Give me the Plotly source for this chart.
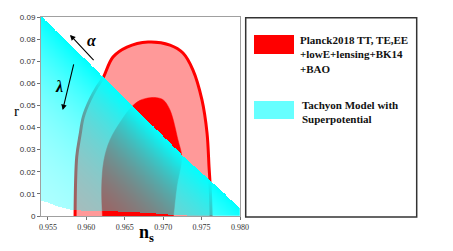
import numpy as np
import plotly.graph_objects as go

# ---------------- data ----------------
# Planck 2018 outer (95%) contour
outer_ns = [0.95853, 0.95875, 0.95918, 0.95961, 0.96048, 0.96139, 0.96217, 0.96347,
            0.96529, 0.96803, 0.97089, 0.97258, 0.97388, 0.97505, 0.97571, 0.97597,
            0.97610, 0.97623, 0.97623]
outer_r = [-0.002, 0.0267, 0.0366, 0.0448, 0.0525, 0.0583, 0.0624, 0.0719,
           0.0764, 0.0787, 0.0773, 0.0737, 0.0660, 0.0525, 0.0375, 0.0222,
           0.0149, 0.0014, -0.002]
# Planck 2018 inner (68%) contour
inner_ns = [0.96213, 0.96200, 0.96230, 0.96308, 0.96460, 0.96591, 0.96699, 0.96829,
            0.96916, 0.97002, 0.97089, 0.97193, 0.97241, 0.97176, 0.97128]
inner_r = [-0.002, 0.0131, 0.0253, 0.0344, 0.0434, 0.0494, 0.0523, 0.0535,
           0.0535, 0.0525, 0.0479, 0.0344, 0.0267, 0.0131, -0.002]
# Tachyon model region: upper and lower boundaries
upper_ns = [0.9530, 0.95423, 0.96221, 0.96656, 0.97262, 0.97675, 0.98000, 0.9815]
upper_r = [0.0942, 0.0900, 0.0629, 0.0479, 0.0271, 0.0140, 0.0035, -0.001]
lower_ns = [0.9530, 0.9541, 0.95657, 0.95827, 0.96217, 0.96829, 0.97154, 0.97480, 0.9815]
lower_r = [0.0074, 0.0069, 0.0038, 0.0025, 0.0020, 0.0011, 0.0002, -0.0002, -0.001]

x_ticks = [0.955, 0.960, 0.965, 0.970, 0.975, 0.980]
x_ticktext = ["0.955", "0.960", "0.965", "0.970", "0.975", "0.980"]
y_ticks = [0, 0.01, 0.02, 0.03, 0.04, 0.05, 0.06, 0.07, 0.08, 0.09]
y_ticktext = ["0", "0.01", "0.02", "0.03", "0.04", "0.05", "0.06", "0.07", "0.08", "0.09"]

legend_labels = ["Planck2018 TT, TE,EE<br>+lowE+lensing+BK14<br>+BAO",
                 "Tachyon Model with<br>Superpotential"]

# ---------------- layout geometry ----------------
W, H = 453, 251
ML, MR, MT, MB = 41, 213, 17, 35
PW, PH = W - ML - MR, H - MT - MB
XR = [0.9541, 0.9800]
YR = [0.0, 0.09]


def PX(x):
    return (x - ML) / PW


def PY(y):
    return (H - MB - y) / PH


# ---------------- cyan gradient region ----------------
xs = np.linspace(XR[0], XR[1], 420)
ys = np.linspace(YR[0], YR[1], 420)
XX, YY = np.meshgrid(xs, ys)
up = np.interp(XX, upper_ns, upper_r)
lo = np.interp(XX, lower_ns, lower_r)
sy = PH / (YR[1] - YR[0])
vert = (up - YY) * sy          # vertical pixel distance below the top edge
perp = vert * 0.719            # perpendicular distance to the (diagonal) edge
alpha = 0.22 + 0.78 * np.exp(-perp / 65.0)
mask = (YY <= up) & (YY >= lo)
Z = np.where(mask, alpha, np.nan).astype(np.float32)

fig = go.Figure()

fig.add_trace(go.Scatter(
    x=outer_ns, y=outer_r, mode="lines", fill="toself",
    fillcolor="rgb(255,153,153)", line=dict(color="#ff0000", width=3, shape="spline"),
    hoverinfo="skip", showlegend=False))
fig.add_trace(go.Scatter(
    x=inner_ns, y=inner_r, mode="lines", fill="toself",
    fillcolor="#ff0000", line=dict(color="#ff0000", width=0.5, shape="spline"),
    hoverinfo="skip", showlegend=False))

fig.add_trace(go.Heatmap(
    x=xs, y=ys, z=Z, xaxis="x2", yaxis="y2",
    colorscale=[[0, "rgba(0,255,255,0)"], [1, "rgba(0,255,255,1)"]],
    zmin=0, zmax=1, showscale=False, zsmooth=False, hoverinfo="skip"))

axis_common = dict(showgrid=False, zeroline=False, showline=True, linecolor="#a0a0a0",
                   linewidth=1, mirror=True, ticks="outside", ticklen=3,
                   tickcolor="#707070", tickwidth=1)

fig.update_layout(
    width=W, height=H,
    margin=dict(l=ML, r=MR, t=MT, b=MB, pad=0),
    paper_bgcolor="white", plot_bgcolor="white",
    showlegend=False,
    xaxis=dict(range=XR, tickvals=x_ticks, ticktext=x_ticktext,
               tickfont=dict(family="Liberation Serif", size=8, color="#333"), **axis_common),
    yaxis=dict(range=YR, tickvals=y_ticks, ticktext=y_ticktext,
               tickfont=dict(family="Liberation Sans", size=8, color="#333"), **axis_common),
    xaxis2=dict(range=XR, overlaying="x", visible=False, anchor="y2"),
    yaxis2=dict(range=YR, overlaying="y", visible=False, anchor="x2"),
)

shapes = [
    dict(type="rect", xref="paper", yref="paper", x0=PX(245.7), x1=PX(416.7),
         y0=PY(217), y1=PY(17.7), line=dict(color="#333", width=1.5), fillcolor="rgba(0,0,0,0)"),
    dict(type="rect", xref="paper", yref="paper", x0=PX(254), x1=PX(294),
         y0=PY(54), y1=PY(35), line=dict(width=0), fillcolor="#ff0000"),
    dict(type="rect", xref="paper", yref="paper", x0=PX(254), x1=PX(294),
         y0=PY(119), y1=PY(101), line=dict(width=0), fillcolor="#66ffff"),
]
fig.update_layout(shapes=shapes)

serif = "Liberation Serif"
ann = [
    dict(xref="paper", yref="paper", x=PX(298), y=PY(54.5), xanchor="left", yanchor="middle",
         align="left", showarrow=False, text="<b>" + legend_labels[0] + "</b>",
         font=dict(family=serif, size=11, color="#111")),
    dict(xref="paper", yref="paper", x=PX(300), y=PY(111.5), xanchor="left", yanchor="middle",
         align="left", showarrow=False, text="<b>" + legend_labels[1] + "</b>",
         font=dict(family=serif, size=11, color="#111")),
    # arrows
    dict(x=0.95787, y=0.0819, ax=0.96113, ay=0.0698, xref="x", yref="y", axref="x", ayref="y",
         text="", showarrow=True, arrowhead=2, arrowsize=1, arrowwidth=1.1, arrowcolor="black"),
    dict(x=0.95692, y=0.0479, ax=0.95840, ay=0.0692, xref="x", yref="y", axref="x", ayref="y",
         text="", showarrow=True, arrowhead=2, arrowsize=1, arrowwidth=1.1, arrowcolor="black"),
    dict(x=0.96070, y=0.0796, xref="x", yref="y", showarrow=False, text="<b><i>α</i></b>",
         font=dict(family=serif, size=16, color="black")),
    dict(x=0.95644, y=0.0585, xref="x", yref="y", showarrow=False, text="<b><i>λ</i></b>",
         font=dict(family=serif, size=16, color="black")),
    # axis titles
    dict(xref="paper", yref="paper", x=PX(12), y=PY(111), showarrow=False, text="r",
         font=dict(family=serif, size=15, color="black")),
    dict(xref="paper", yref="paper", x=PX(146), y=PY(247), showarrow=False,
         text="<b>n<sub>s</sub></b>", font=dict(family=serif, size=18, color="black")),
]
fig.update_layout(annotations=ann)

fig.write_html("out.html", config={"displayModeBar": False},
               post_script="document.body.style.margin='0px';"
                           "document.body.style.overflow='hidden';")
